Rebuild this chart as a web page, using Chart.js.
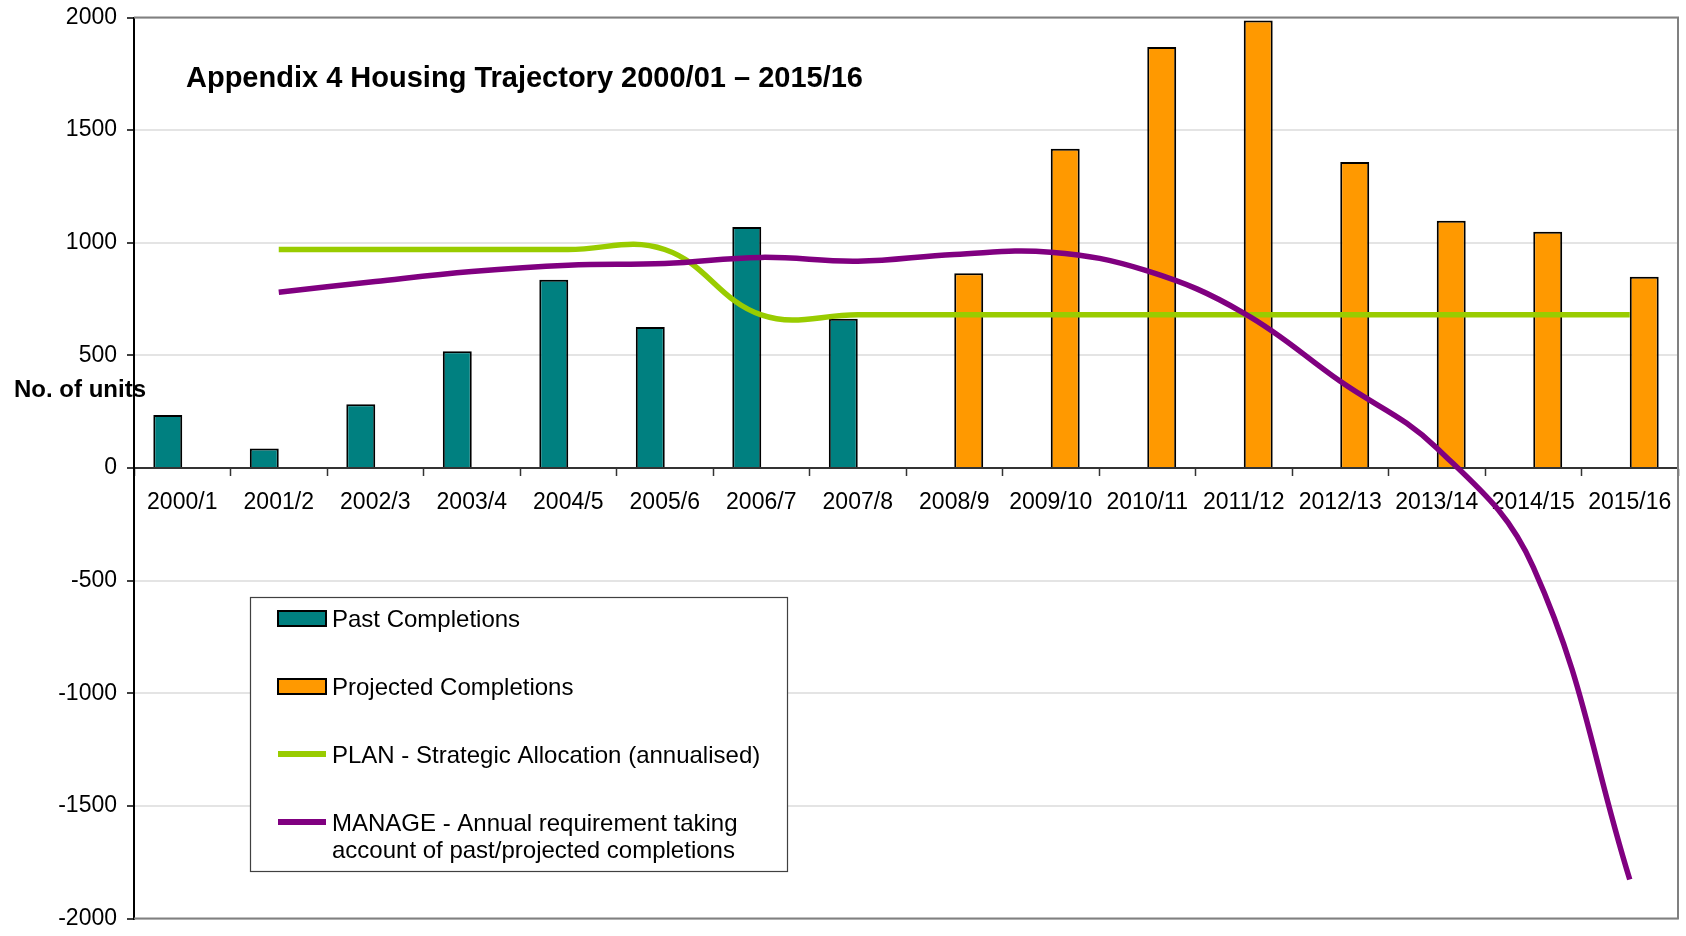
<!DOCTYPE html>
<html>
<head>
<meta charset="utf-8">
<script src="https://cdn.jsdelivr.net/npm/chart.js@4/dist/chart.umd.min.js"></script>
<style>
html,body{margin:0;padding:0;background:#fff;}
#wrap{width:1686px;height:936px;position:relative;}
</style>
</head>
<body>
<div id="wrap"><canvas id="c" width="1686" height="936"></canvas></div>
<script>
// ---- data ----
const categories = ['2000/1','2001/2','2002/3','2003/4','2004/5','2005/6','2006/7','2007/8',
                    '2008/9','2009/10','2010/11','2011/12','2012/13','2013/14','2014/15','2015/16'];
const pastCompletions = [235, 87, 283, 518, 836, 626, 1070, 663, null, null, null, null, null, null, null, null];
const projectedCompletions = [null, null, null, null, null, null, null, null, 865, 1417, 1869, 1987, 1358, 1098, 1049, 849];
const planAllocation = [null, 970, 970, 970, 970, 970, 680, 680, 680, 680, 680, 680, 680, 680, 680, 680];
const manageRequirement = [null, 780, 828, 872, 900, 908, 935, 918, 948, 958, 875, 688, 385, 89, -440, -1827];
const yMin = -2000, yMax = 2000, yStep = 500;
const titleText = 'Appendix 4 Housing Trajectory 2000/01 \u2013 2015/16';
const yAxisTitle = 'No. of units';
const seriesLabels = ['Past Completions', 'Projected Completions', 'PLAN - Strategic Allocation (annualised)',
                      'MANAGE - Annual requirement taking account of past/projected completions'];
const legendLines = [['Past Completions'], ['Projected Completions'], ['PLAN - Strategic Allocation (annualised)'],
                     ['MANAGE - Annual requirement taking', 'account of past/projected completions']];

const FONT = '"Liberation Sans", Arial, Helvetica, sans-serif';
const TEAL = '#008080', ORANGE = '#FF9900', GREEN = '#99CC00', PURPLE = '#800080';

const decorPlugin = {
  id: 'decor',
  beforeDatasetsDraw(chart) {
    const {ctx, chartArea: a} = chart;
    ctx.save();
    ctx.strokeStyle = '#808080';
    ctx.lineWidth = 2;
    ctx.beginPath();
    ctx.moveTo(a.left, a.top); ctx.lineTo(a.right, a.top); ctx.lineTo(a.right, a.bottom); ctx.lineTo(a.left, a.bottom);
    ctx.stroke();
    ctx.restore();
  },
  afterDraw(chart) {
    const {ctx} = chart;
    ctx.save();
    // title inside plot
    ctx.fillStyle = '#000';
    ctx.textBaseline = 'middle';
    ctx.textAlign = 'left';
    ctx.font = 'bold 29px ' + FONT;
    ctx.fillText(titleText, 186, 79);
    // y-axis title
    ctx.font = 'bold 24px ' + FONT;
    ctx.fillText(yAxisTitle, 14, 390);

    // legend box
    const bx = 250.5, by = 597.5, bw = 537, bh = 274;
    ctx.fillStyle = '#fff';
    ctx.fillRect(bx, by, bw, bh);
    ctx.strokeStyle = '#404040';
    ctx.lineWidth = 1.2;
    ctx.strokeRect(bx, by, bw, bh);
    const rows = [618.5, 686.5, 754, 822];
    const sx = 278, sw = 48, tx = 332;
    chart.data.datasets.forEach((ds, i) => {
      const ry = rows[i];
      if (ds.type === 'line') {
        ctx.fillStyle = ds.borderColor;
        ctx.fillRect(sx, ry - 3, sw, 6);
      } else {
        ctx.fillStyle = ds.backgroundColor;
        ctx.fillRect(sx, ry - 7.5, sw, 15);
        ctx.strokeStyle = '#000';
        ctx.lineWidth = 2;
        ctx.strokeRect(sx, ry - 7.5, sw, 15);
      }
      ctx.fillStyle = '#000';
      ctx.font = '24px ' + FONT;
      ctx.textBaseline = 'middle';
      const lines = legendLines[i];
      lines.forEach((ln, k) => ctx.fillText(ln, tx, ry + 2 + k * 27));
    });
    ctx.restore();
  }
};

new Chart(document.getElementById('c'), {
  data: {
    labels: categories,
    datasets: [
      { type: 'bar', label: seriesLabels[0], data: pastCompletions, backgroundColor: TEAL, borderColor: '#000',
        borderWidth: 2, order: 3, categoryPercentage: 0.6, barPercentage: 1.0 },
      { type: 'bar', label: seriesLabels[1], data: projectedCompletions, backgroundColor: ORANGE, borderColor: '#000',
        borderWidth: 2, order: 3, categoryPercentage: 0.6, barPercentage: 1.0 },
      { type: 'line', label: seriesLabels[2], data: planAllocation, borderColor: GREEN, backgroundColor: GREEN,
        borderWidth: 5.5, pointRadius: 0, tension: 0.4, order: 1, fill: false },
      { type: 'line', label: seriesLabels[3], data: manageRequirement, borderColor: PURPLE, backgroundColor: PURPLE,
        borderWidth: 5.5, pointRadius: 0, tension: 0.4, order: 0, fill: false }
    ]
  },
  options: {
    responsive: false,
    animation: false,
    devicePixelRatio: 1,
    layout: { padding: { left: 0, right: 8, top: 17.5, bottom: 17.5 } },
    plugins: { legend: { display: false }, tooltip: { enabled: false }, title: { display: false } },
    scales: {
      x: {
        type: 'category',
        position: { y: 0 },
        offset: true,
        afterFit(scale) { scale.paddingLeft = 0; scale.paddingRight = 0; },
        grid: { drawOnChartArea: false, offset: true, tickLength: 7, tickColor: '#333', tickWidth: 1.5 },
        border: { color: '#333', width: 2 },
        ticks: { color: '#000', font: { family: FONT, size: 23 }, padding: 14, maxRotation: 0, autoSkip: false }
      },
      y: {
        type: 'linear',
        min: yMin, max: yMax,
        afterFit(scale) { scale.width = 134; scale.paddingTop = 0; scale.paddingBottom = 0; },
        grid: { color: '#e4e4e4', lineWidth: 2, tickLength: 7, tickColor: '#000', tickWidth: 1.5 },
        border: { color: '#000', width: 2 },
        ticks: { stepSize: yStep, color: '#000', font: { family: FONT, size: 23 }, padding: 10,
                 callback: (v) => String(v) }
      }
    }
  },
  plugins: [decorPlugin]
});
</script>
</body>
</html>
